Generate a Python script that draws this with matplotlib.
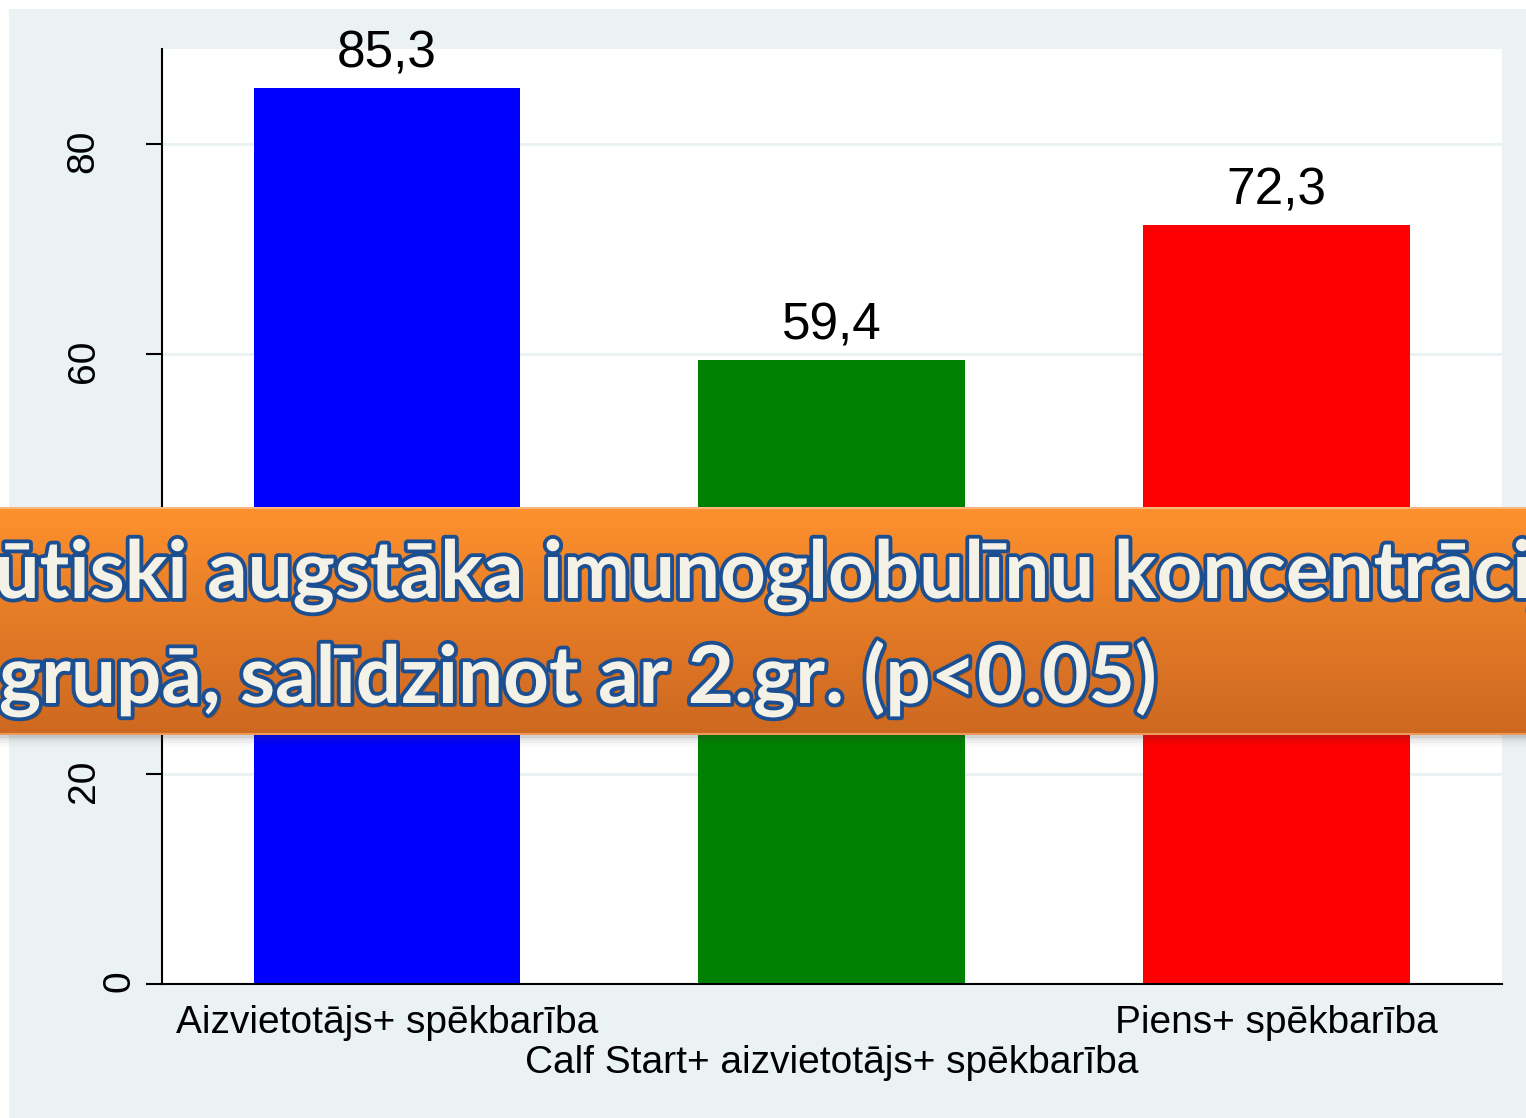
import numpy as np
import matplotlib.pyplot as plt
import matplotlib.patheffects as pe
from matplotlib.patches import Rectangle
from matplotlib.colors import LinearSegmentedColormap
from matplotlib.transforms import ScaledTranslation

# data
groups = ["Aizvietotājs+ spēkbarība",
          "Calf Start+ aizvietotājs+ spēkbarība",
          "Piens+ spēkbarība"]
values = [85.3, 59.4, 72.3]
value_labels = ["85,3", "59,4", "72,3"]
bar_colors = ["#0000FF", "#008000", "#FF0000"]
yticks = [0, 20, 40, 60, 80]
banner_lines = ["Būtiski augstāka imunoglobulīnu koncentrācija",
                "grupā, salīdzinot ar 2.gr. (p<0.05)"]

W, H = 1526, 1118
plt.rcParams['font.family'] = ['Liberation Sans', 'DejaVu Sans']

fig = plt.figure(figsize=(W / 100, H / 100), dpi=100, facecolor='white')

# Stata-like light bluish-gray background
fig.patches.append(Rectangle((9 / W, 0), 1, 1 - 9 / H, transform=fig.transFigure,
                             facecolor='#EAF2F3', edgecolor='none', zorder=-2))

ax = fig.add_axes([162 / W, 1 - 984 / H, 1340 / W, 935 / H])
x = np.arange(1, len(values) + 1)
ax.bar(x, values, width=0.6, color=bar_colors, zorder=2)
ax.set_xlim(0.494, 3.508)
ax.set_ylim(0, 89.05)
ax.set_yticks(yticks)
ax.set_xticks(x)
ax.set_xticklabels(groups)
ax.grid(axis='y', color='#EAF2F3', linewidth=2.2, zorder=1)
ax.set_axisbelow(True)
for s in ['top', 'right']:
    ax.spines[s].set_visible(False)
ax.spines['left'].set_linewidth(1.5)
ax.spines['bottom'].set_linewidth(1.5)
ax.tick_params(axis='y', length=11.5, width=1.5, pad=32, labelsize=28, labelrotation=90)
ax.tick_params(axis='x', length=0, pad=15, labelsize=28)

for xi, v, lab in zip(x, values, value_labels):
    ax.annotate(lab, (xi, v), xytext=(0, 7), textcoords='offset points',
                ha='center', va='bottom', fontsize=37)

# Stata puts the single digit label closer to the axis
for lab in ax.get_yticklabels():
    if len(lab.get_text()) == 1:
        lab.set_transform(lab.get_transform() + ScaledTranslation(0.36, 0, fig.dpi_scale_trans))
# staggered x labels
xl = ax.get_xticklabels()
xl[1].set_transform(xl[1].get_transform() + ScaledTranslation(0, -0.40, fig.dpi_scale_trans))

# orange banner on top of the chart
b_bot, b_top = 1 - 735 / H, 1 - 507 / H
for i, a in enumerate([0.10, 0.07, 0.045, 0.025, 0.012]):
    fig.patches.append(Rectangle((0, b_bot - (i + 1) * 2.5 / H), 1, (i + 1) * 2.5 / H,
                                 transform=fig.transFigure, facecolor='#404040',
                                 alpha=a, edgecolor='none', zorder=4))
bax = fig.add_axes([0, b_bot, 1, b_top - b_bot], zorder=5)
cmap = LinearSegmentedColormap.from_list('banner', ['#CD6820', '#E47B27', '#FF922E'])
bax.imshow(np.linspace(0, 1, 256).reshape(-1, 1), cmap=cmap, origin='lower',
           aspect='auto', extent=(0, 1, 0, 1))
bax.axhline(0.995, color='#F9B57C', linewidth=1.5)
bax.axhline(0.005, color='#EE9A5A', linewidth=1.5)
bax.set_xlim(0, 1)
bax.set_ylim(0, 1)
bax.axis('off')

effects = [pe.SimplePatchShadow(offset=(2.5, -2.5), shadow_rgbFace='#4A2A10', alpha=0.45),
           pe.Stroke(linewidth=5.5, foreground='#1C4F92'), pe.Normal()]
for line, x0, ybase in zip(banner_lines, [-58, -1], [598, 703]):
    fig.text(x0 / W, 1 - ybase / H, line, ha='left', va='baseline', fontsize=57.5,
             family=['Lato', 'DejaVu Sans'], fontweight='bold', color='#F4F1E6',
             zorder=10, path_effects=effects)

fig.savefig('out.png', dpi=100, facecolor='white')
